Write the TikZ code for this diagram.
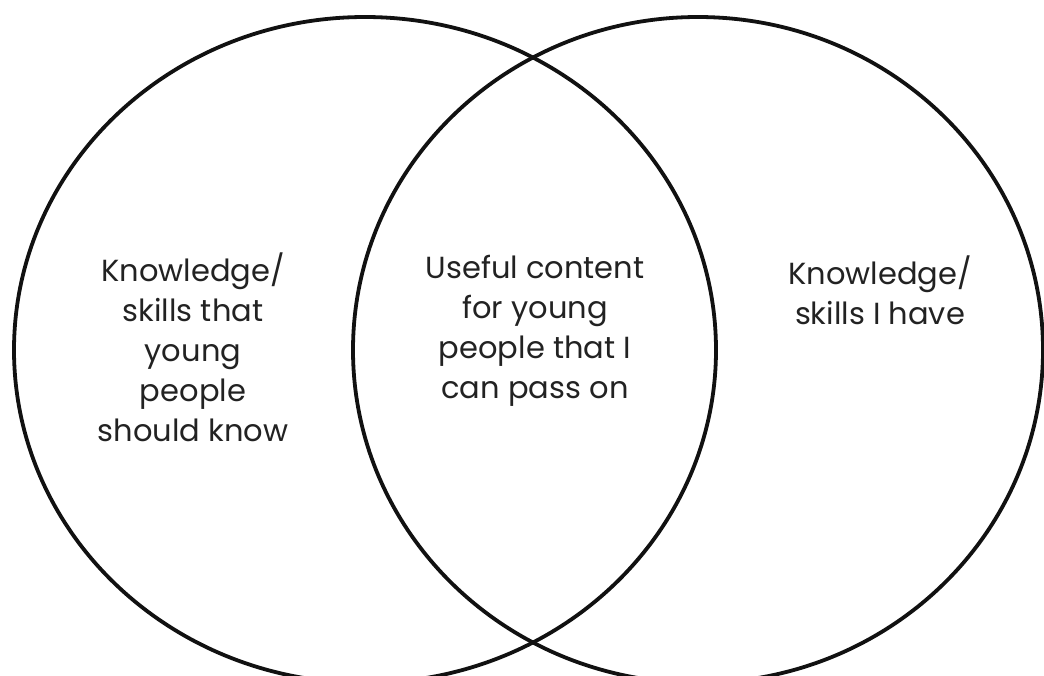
\documentclass[tikz,border=0pt]{standalone}
\usepackage{fontspec}
\setmainfont{Poppins}
\definecolor{ink}{HTML}{111111}
\definecolor{txt}{HTML}{222222}
\begin{document}
\begin{tikzpicture}[x=1pt,y=-1pt,
  ring/.style={draw=ink,line width=3.8pt},
  label/.style={text=txt,align=center,inner sep=0pt,font=\fontsize{30.5}{40}\selectfont}]
\useasboundingbox (0,0) rectangle (1044,675);
\begin{scope}
\clip (0,0) rectangle (1044,675);
\draw[ring] (365,350) ellipse [x radius=351, y radius=333];
\draw[ring] (698,350) ellipse [x radius=345, y radius=333];
\end{scope}
\node[label] (left) at (193,347) {Knowledge/\\skills that\\young\\people\\should know};
\node[label] (mid) at (535,331) {Useful content\\for young\\people that I\\can pass on};
\node[label] (right) at (880,290) {Knowledge/\\skills I have};
\end{tikzpicture}
\end{document}
